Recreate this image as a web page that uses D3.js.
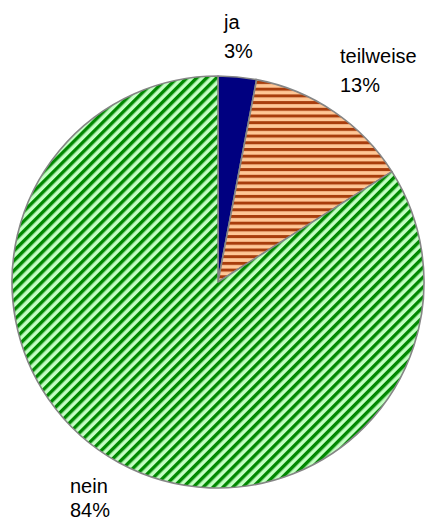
<!DOCTYPE html>
<html>
<head>
<meta charset="utf-8">
<script src="https://cdn.jsdelivr.net/npm/d3@7"></script>
<style>
  html, body { margin: 0; padding: 0; background: #fff; }
  svg { display: block; }
  text { font-family: "Liberation Sans", Arial, sans-serif; fill: #000; }
</style>
</head>
<body>
<svg id="chart" width="429" height="522"></svg>
<script>
// Antworten und Anteile (Prozent)
const categories = ["ja", "teilweise", "nein"];
const shares = [3, 13, 84];
const labelText = ["3%", "13%", "84%"];

const svg = d3.select("#chart");
const cx = 218, cy = 282, radius = 206;

// Füllmuster für die Segmente
const defs = svg.append("defs");

const pStripes = defs.append("pattern")
  .attr("id", "pat-teilweise")
  .attr("patternUnits", "userSpaceOnUse")
  .attr("width", 6.7).attr("height", 6.7);
pStripes.append("rect").attr("width", 6.7).attr("height", 6.7).attr("fill", "#ffc796");
pStripes.append("rect").attr("y", 0).attr("width", 6.7).attr("height", 3).attr("fill", "#a83d0c");

const pDiag = defs.append("pattern")
  .attr("id", "pat-nein")
  .attr("patternUnits", "userSpaceOnUse")
  .attr("width", 7).attr("height", 7)
  .attr("patternTransform", "rotate(-45)");
pDiag.append("rect").attr("width", 7).attr("height", 7).attr("fill", "#c4ffc4");
pDiag.append("rect").attr("y", 0).attr("width", 7).attr("height", 3.4).attr("fill", "#008800");

const fills = {
  "ja": "#000080",
  "teilweise": "url(#pat-teilweise)",
  "nein": "url(#pat-nein)"
};

const data = categories.map((c, i) => ({ cat: c, value: shares[i], label: labelText[i] }));

const pie = d3.pie().value(d => d.value).sort(null);
const arc = d3.arc().innerRadius(0).outerRadius(radius);

const g = svg.append("g").attr("transform", `translate(${cx},${cy})`);

g.selectAll("path.slice")
  .data(pie(data))
  .join("path")
  .attr("class", "slice")
  .attr("d", arc)
  .attr("fill", d => fills[d.data.cat])
  .attr("stroke", "#858585")
  .attr("stroke-width", 1.6)
  .attr("stroke-linejoin", "round");

// Beschriftungen: Kategorie und Prozentwert
const labelPos = {
  "ja": [224, 29, 58],
  "teilweise": [340, 63, 92],
  "nein": [70, 493, 517]
};

const lg = svg.append("g");
data.forEach(d => {
  const [x, y1, y2] = labelPos[d.cat];
  lg.append("text").attr("x", x).attr("y", y1)
    .attr("font-size", 20).text(d.cat);
  lg.append("text").attr("x", x).attr("y", y2)
    .attr("font-size", 20).text(d.label);
});
</script>
</body>
</html>
